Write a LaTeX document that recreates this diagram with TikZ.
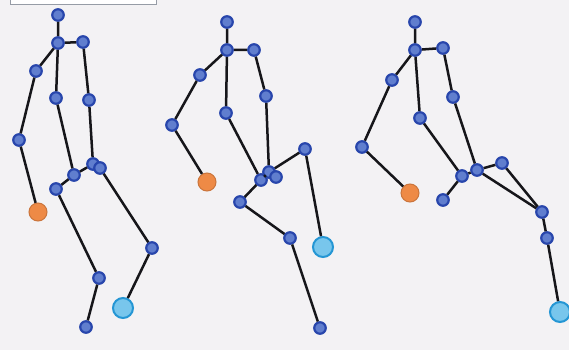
\documentclass[tikz,border=0pt]{standalone}
\usetikzlibrary{positioning}
\definecolor{bgc}{RGB}{243,242,244}
\definecolor{jointc}{RGB}{96,126,206}
\definecolor{jointdk}{RGB}{40,70,172}
\definecolor{lhandc}{RGB}{238,138,70}
\definecolor{rhandc}{RGB}{120,198,236}
\definecolor{rhanddk}{RGB}{36,150,212}
\definecolor{bonec}{RGB}{22,22,26}
\definecolor{framec}{RGB}{150,156,166}

\begin{document}
\begin{tikzpicture}[
  x=1pt, y=-1pt,
  jnt/.style={circle, draw=jointdk, fill=jointc, line width=2.2pt,
    minimum size=11.5pt, inner sep=0pt},
  lhand/.style={circle, draw=lhandc!85!black, fill=lhandc, line width=1pt,
    minimum size=18pt, inner sep=0pt},
  rhand/.style={circle, draw=rhanddk, fill=rhandc, line width=2pt,
    minimum size=20pt, inner sep=0pt},
  bone/.style={draw=bonec, line width=2.5pt},
]

% ---- canvas ----
\fill[bgc] (0,0) rectangle (569,350);
\useasboundingbox (0,0) rectangle (569,350);
\draw[framec, fill=white, line width=1pt] (10,-6) rectangle (156,5);

% ---- pose 1 ----
\node[jnt] (headA) at (58,15) {};
\node[jnt] (neckA) at (58,43) {};
\node[jnt] (shA)   at (83,42) {};
\node[jnt] (armA)  at (36,71) {};
\node[jnt] (elbA)  at (19,140) {};
\node[lhand] (lhA) at (38,212) {};
\node[jnt] (spA)   at (56,98) {};
\node[jnt] (sideA) at (89,100) {};
\node[jnt] (hipA)  at (74,175) {};
\node[jnt] (hrA)   at (93,164) {};
\node[jnt] (hrbA)  at (100,168) {};
\node[jnt] (hlA)   at (56,189) {};
\node[jnt] (knA)   at (99,278) {};
\node[jnt] (ftA)   at (86,327) {};
\node[jnt] (krA)   at (152,248) {};
\node[rhand] (rhA) at (123,308) {};

\draw[bone] (headA) -- (neckA) -- (shA) -- (sideA) -- (hrA);
\draw[bone] (neckA) -- (armA) -- (elbA) -- (lhA);
\draw[bone] (neckA) -- (spA) -- (hipA);
\draw[bone] (hlA) -- (hipA) -- (hrA);
\draw[bone] (hlA) -- (knA) -- (ftA);
\draw[bone] (hrbA) -- (krA) -- (rhA);

% ---- pose 2 ----
\node[jnt] (headB) at (227,22) {};
\node[jnt] (neckB) at (227,50) {};
\node[jnt] (shB)   at (254,50) {};
\node[jnt] (armB)  at (200,75) {};
\node[jnt] (elbB)  at (172,125) {};
\node[lhand] (lhB) at (207,182) {};
\node[jnt] (spB)   at (226,113) {};
\node[jnt] (sideB) at (266,96) {};
\node[jnt] (hipB)  at (261,180) {};
\node[jnt] (hrB)   at (269,172) {};
\node[jnt] (hrbB)  at (276,177) {};
\node[jnt] (hlB)   at (240,202) {};
\node[jnt] (krB)   at (305,149) {};
\node[rhand] (rhB) at (323,247) {};
\node[jnt] (knB)   at (290,238) {};
\node[jnt] (ftB)   at (320,328) {};

\draw[bone] (headB) -- (neckB) -- (shB) -- (sideB) -- (hrB);
\draw[bone] (neckB) -- (armB) -- (elbB) -- (lhB);
\draw[bone] (neckB) -- (spB) -- (hipB);
\draw[bone] (hlB) -- (hipB) -- (hrB) -- (krB) -- (rhB);
\draw[bone] (hlB) -- (knB) -- (ftB);

% ---- pose 3 ----
\node[jnt] (headC) at (415,22) {};
\node[jnt] (neckC) at (415,50) {};
\node[jnt] (shC)   at (443,48) {};
\node[jnt] (armC)  at (392,80) {};
\node[jnt] (elbC)  at (362,147) {};
\node[lhand] (lhC) at (410,193) {};
\node[jnt] (spC)   at (420,118) {};
\node[jnt] (sideC) at (453,97) {};
\node[jnt] (hipC)  at (462,176) {};
\node[jnt] (hrC)   at (477,170) {};
\node[jnt] (hlC)   at (443,200) {};
\node[jnt] (krC)   at (502,163) {};
\node[jnt] (knC)   at (542,212) {};
\node[jnt] (anC)   at (547,238) {};
\node[rhand] (rhC) at (560,312) {};

\draw[bone] (headC) -- (neckC) -- (shC) -- (sideC) -- (hrC);
\draw[bone] (neckC) -- (armC) -- (elbC) -- (lhC);
\draw[bone] (neckC) -- (spC) -- (hipC);
\draw[bone] (hlC) -- (hipC) -- (hrC) -- (krC) -- (knC);
\draw[bone] (hrC) -- (knC) -- (anC) -- (rhC);

\end{tikzpicture}
\end{document}
